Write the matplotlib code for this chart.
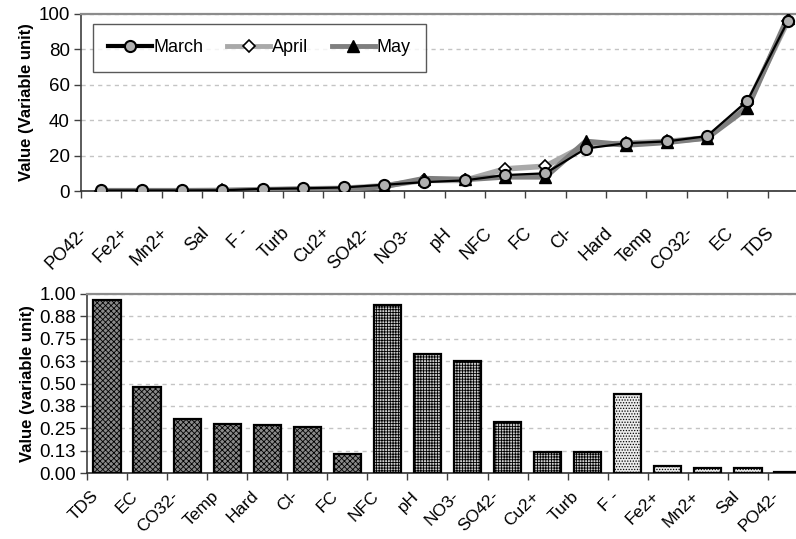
import matplotlib
matplotlib.use("Agg")
import matplotlib.pyplot as plt
import matplotlib.transforms as mtransforms
import numpy as np

plt.rcParams['font.family'] = ['Liberation Sans', 'DejaVu Sans']
plt.rcParams['hatch.linewidth'] = 0.6

# ---- Top panel: monthly values, parameters sorted ascending ----
line_categories = ["PO42-", "Fe2+", "Mn2+", "Sal", "F -", "Turb", "Cu2+", "SO42-",
                   "NO3-", "pH", "NFC", "FC", "Cl-", "Hard", "Temp", "CO32-", "EC", "TDS"]
march = [0.3, 0.3, 0.3, 0.4, 1.2, 1.5, 2.0, 3.5, 5.0, 6.0, 9.0, 10.0, 24.0, 27.0, 28.0, 31.0, 51.0, 96.0]
april = [0.2, 0.2, 0.2, 0.3, 0.8, 1.2, 1.5, 3.0, 6.0, 6.0, 12.5, 14.0, 26.0, 27.0, 28.0, 30.0, 49.0, 96.0]
may = [0.1, 0.1, 0.1, 0.2, 0.5, 1.0, 1.0, 2.5, 7.0, 6.5, 8.0, 8.0, 28.0, 26.0, 27.5, 30.0, 47.0, 98.0]
line_yticks = [0, 20, 40, 60, 80, 100]

# ---- Bottom panel: normalised values ----
bar_categories = ["TDS", "EC", "CO32-", "Temp", "Hard", "Cl-", "FC", "NFC", "pH",
                  "NO3-", "SO42-", "Cu2+", "Turb", "F -", "Fe2+", "Mn2+", "Sal", "PO42-"]
bar_values = [0.964, 0.48, 0.30, 0.275, 0.27, 0.255, 0.106, 0.94, 0.666,
              0.623, 0.285, 0.119, 0.119, 0.44, 0.037, 0.026, 0.026, 0.006]
bar_group = [0, 0, 0, 0, 0, 0, 0, 1, 1, 1, 1, 1, 1, 2, 2, 2, 2, 2]
bar_ytick_values = [0.0, 0.125, 0.25, 0.375, 0.5, 0.625, 0.75, 0.875, 1.0]
bar_ytick_labels = ["0.00", "0.13", "0.25", "0.38", "0.50", "0.63", "0.75", "0.88", "1.00"]

group_faces = ["#8a8a8a", "#cdcdcd", "#ececec"]
group_hatch = ["xxxxxx", "++++++", "......"]
group_hatch_colors = ["#303030", "#8a8a8a", "#9a9a9a"]

fig = plt.figure(figsize=(7.96, 5.39), dpi=100)

YTICK_FS = 13.5
XTICK_FS = 12.5
LABEL_FS = 12


def style_axes(ax, xpad):
    ax.spines['right'].set_visible(False)
    ax.spines['top'].set_color('#8c8c8c')
    ax.spines['top'].set_linewidth(1.6)
    ax.spines['left'].set_color('#404040')
    ax.spines['left'].set_linewidth(1.2)
    ax.spines['bottom'].set_color('#303030')
    ax.spines['bottom'].set_linewidth(1.2)
    ax.yaxis.grid(True, linestyle=(0, (3, 3)), color='#c4c4c4', linewidth=1.0)
    ax.set_axisbelow(True)
    ax.tick_params(axis='y', direction='out', length=5, width=1, color='#404040',
                   labelsize=YTICK_FS, pad=3)
    n = len(line_categories)
    ax.set_xlim(-0.5, n - 0.5)
    ax.set_xticks(np.arange(n))
    ax.set_xticks(np.arange(n + 1) - 0.5, minor=True)
    ax.tick_params(axis='x', which='major', length=0, pad=xpad)
    ax.tick_params(axis='x', which='minor', direction='out', length=5, width=1, color='#404040')


def shift_xlabels(ax, dx_px):
    off = mtransforms.ScaledTranslation(dx_px / 100.0, 0, fig.dpi_scale_trans)
    for lab in ax.get_xticklabels():
        lab.set_transform(lab.get_transform() + off)


# Top panel
ax1 = fig.add_axes([81 / 796, 1 - 191 / 539, 727 / 796, 177 / 539])
x = np.arange(len(line_categories))
ax1.plot(x, april, color='#a9a9a9', lw=4, marker='D', ms=6.5, mfc='white',
         mec='black', mew=1.2, label='April', zorder=3)
ax1.plot(x, may, color='#7f7f7f', lw=4, marker='^', ms=8.5, mfc='black',
         mec='black', mew=1, label='May', zorder=4)
ax1.plot(x, march, color='black', lw=1.6, marker='o', ms=8, mfc='#b0b0b0',
         mec='black', mew=1.5, label='March', zorder=5)
ax1.set_ylim(0, 100)
ax1.set_yticks(line_yticks)
style_axes(ax1, 24)
ax1.set_xticklabels(line_categories, rotation=45, ha='right', va='top', fontsize=XTICK_FS + 0.5)
shift_xlabels(ax1, -10)
ax1.set_ylabel("Value (Variable unit)", fontsize=LABEL_FS, fontweight='bold', labelpad=3)

handles, labels = ax1.get_legend_handles_labels()
order = [2, 0, 1]
leg = fig.legend([handles[i] for i in order], [labels[i] for i in order],
                 loc='upper left', bbox_to_anchor=(93 / 796, 1 - 24 / 539),
                 ncol=3, fontsize=13, frameon=True, fancybox=False,
                 edgecolor='#303030', handlelength=2.4, handletextpad=0.1,
                 columnspacing=1.3, borderpad=0.85, borderaxespad=0)
leg.get_frame().set_linewidth(1.0)
for lh in leg.get_lines():
    if lh.get_color() == 'black':
        lh.set_linewidth(3)
    else:
        lh.set_linewidth(3.5)

# Bottom panel
ax2 = fig.add_axes([87 / 796, 1 - 473 / 539, 721 / 796, 179 / 539])
xb = np.arange(len(bar_categories))
for xi, v, g in zip(xb, bar_values, bar_group):
    plt.rcParams['hatch.color'] = group_hatch_colors[g]
    ax2.bar(xi, v, width=0.68, color=group_faces[g], edgecolor='black',
            linewidth=1.6, hatch=group_hatch[g], zorder=3)
ax2.set_ylim(0, 1.0)
ax2.set_yticks(bar_ytick_values)
ax2.set_yticklabels(bar_ytick_labels)
style_axes(ax2, 11)
ax2.set_xticklabels(bar_categories, rotation=45, ha='right', va='top', fontsize=XTICK_FS)
shift_xlabels(ax2, -6)
ax2.set_ylabel("Value (variable unit)", fontsize=LABEL_FS, fontweight='bold', labelpad=3)

fig.savefig("out.png", dpi=100)
